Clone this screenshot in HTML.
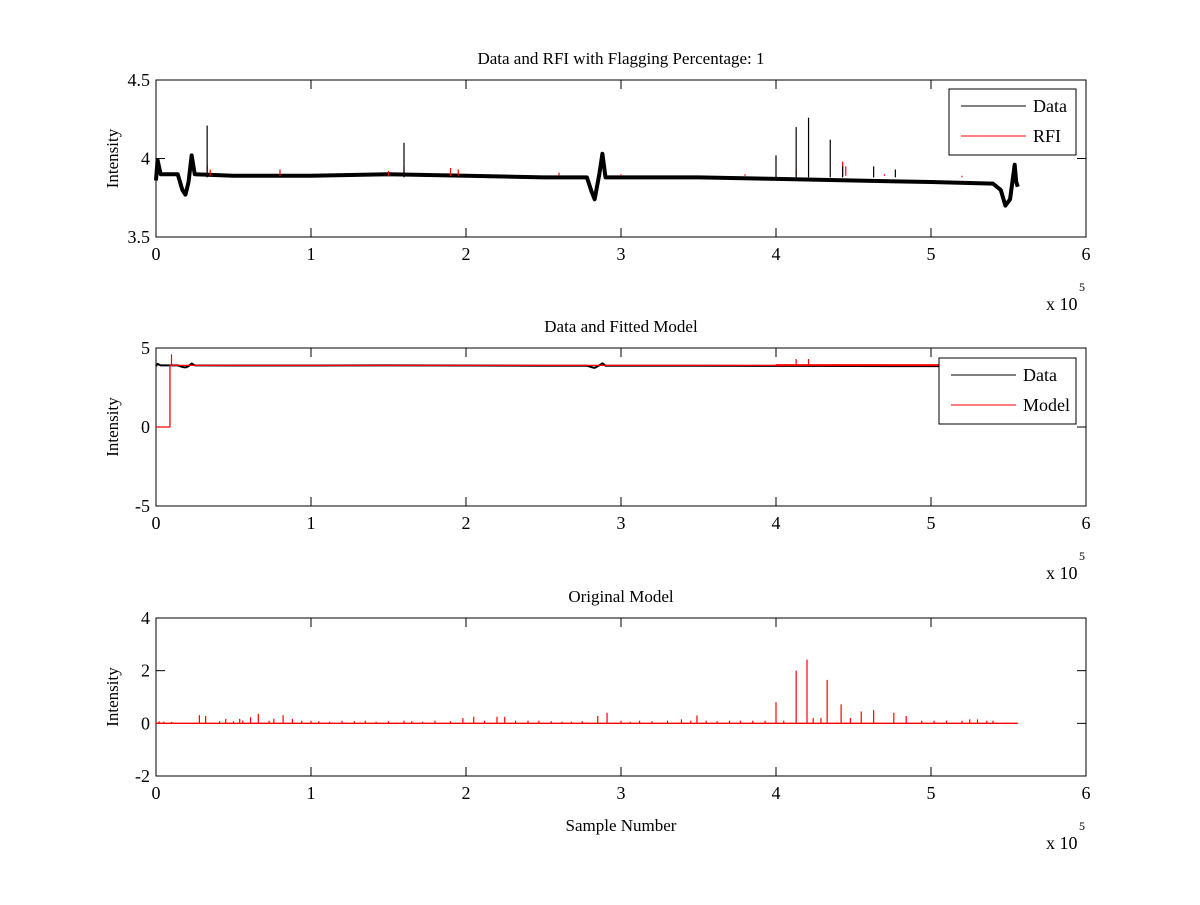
<!DOCTYPE html>
<html><head><meta charset="utf-8">
<style>
html,body{margin:0;padding:0;background:#fff;}
svg text{font-family:"Liberation Serif",serif;fill:#000;}
</style></head>
<body>
<svg id="fig" width="1200" height="900" viewBox="0 0 1200 900" xmlns="http://www.w3.org/2000/svg">
<rect x="0" y="0" width="1200" height="900" fill="#fff"/>
</svg>
<script>
// ---- data (samples in thousands) ----
const dataX = [0,1,3,10,14,17,19,21,23,25,50,100,150,200,250,278,281,283,286,288,290,350,400,450,500,540,545,548,551,554,555,556];
const dataY = [3.86,3.99,3.90,3.90,3.90,3.80,3.77,3.85,4.02,3.90,3.89,3.89,3.90,3.89,3.88,3.88,3.79,3.74,3.90,4.03,3.88,3.88,3.87,3.86,3.85,3.84,3.80,3.70,3.74,3.96,3.85,3.82];
const spikeX = [33,160,400,413,421,435,443,463,477];
const spikeY = [4.21,4.10,4.02,4.20,4.26,4.12,3.95,3.95,3.93];
const rfiX = [33,35,80,150,160,190,195,260,300,380,413,443,445,470,520];
const rfiY = [3.96,3.93,3.93,3.92,3.95,3.94,3.93,3.91,3.90,3.90,3.93,3.98,3.95,3.90,3.88];
const modelX = [0,9,9,556];
const modelY = [0,0,3.9,3.9];
const origX = [2,5,10,28,32,41,45,50,54,56,61,66,73,76,82,88,94,100,105,112,120,128,135,142,150,160,165,172,180,190,198,205,212,220,225,232,240,247,255,262,268,275,285,291,300,306,312,320,330,339,345,349,355,362,370,377,385,393,400,405,413,420,424,429,433,442,448,455,463,476,484,494,502,510,520,525,530,536,540];
const origY = [0.08,0.06,0.05,0.31,0.28,0.08,0.17,0.08,0.17,0.1,0.23,0.36,0.1,0.17,0.31,0.17,0.1,0.1,0.08,0.06,0.1,0.08,0.1,0.06,0.08,0.1,0.08,0.06,0.1,0.08,0.2,0.25,0.1,0.25,0.25,0.1,0.1,0.1,0.08,0.06,0.06,0.08,0.28,0.4,0.1,0.06,0.1,0.08,0.1,0.15,0.1,0.3,0.1,0.08,0.1,0.1,0.1,0.1,0.8,0.1,2.0,2.42,0.2,0.2,1.65,0.72,0.2,0.45,0.5,0.4,0.28,0.1,0.1,0.1,0.1,0.15,0.15,0.1,0.1];
const xTicks = [0,1,2,3,4,5,6];
const ax1Ticks = [3.5,4,4.5], ax2Ticks=[-5,0,5], ax3Ticks=[-2,0,2,4];

const svg = document.getElementById('fig');
const NS = 'http://www.w3.org/2000/svg';
function mk(tag, attrs, parent){const e=document.createElementNS(NS,tag);for(const k in attrs)e.setAttribute(k,attrs[k]);(parent||svg).appendChild(e);return e;}
const L=156,R=1086;
function sx(k){return L+(k/600)*(R-L);}

function axes(top,bot,ymin,ymax,yticks,title,name){
  const g=mk('g',{});
  
  
  const sy=v=>bot-(v-ymin)/(ymax-ymin)*(bot-top);
  mk('rect',{x:L,y:top,width:R-L,height:bot-top,fill:'none',stroke:'#000','stroke-width':1},g);
  xTicks.forEach(t=>{const x=sx(t*100);
    mk('line',{x1:x,x2:x,y1:bot,y2:bot-9,stroke:'#000'},g);
    mk('line',{x1:x,x2:x,y1:top,y2:top+9,stroke:'#000'},g);
    const tx=mk('text',{x:x,y:bot+23,'text-anchor':'middle','font-size':18},g);tx.textContent=t;
    
    
  });
  yticks.forEach(t=>{const y=sy(t);
    mk('line',{x1:L,x2:L+9,y1:y,y2:y,stroke:'#000'},g);
    mk('line',{x1:R,x2:R-9,y1:y,y2:y,stroke:'#000'},g);
    const tx=mk('text',{x:L-6,y:y+6,'text-anchor':'end','font-size':18},g);tx.textContent=t;
    
    
  });
  const tt=mk('text',{x:621,y:top-16,'text-anchor':'middle','font-size':17},g);tt.textContent=title;
  
  
  const yl=mk('text',{x:0,y:0,'text-anchor':'middle','font-size':17,transform:`translate(${L-38},${(top+bot)/2}) rotate(-90)`},g);yl.textContent='Intensity';
  
  
  const ex=mk('text',{x:1046,y:bot+73,'font-size':18},g);ex.textContent='x 10';
  
  
  const e5=mk('text',{x:1079,y:bot+54,'font-size':12},g);e5.textContent='5';
  return {g,sy};
}
function poly(xs,ys,sy,color,w,g,name){
  const p=mk('polyline',{points:xs.map((x,i)=>sx(x)+','+sy(ys[i])).join(' '),fill:'none',stroke:color,'stroke-width':w,'stroke-linejoin':'round'},g);
  
  
  return p;
}
function spikes(xs,ys,base,sy,color,g,name){
  xs.forEach((x,i)=>{const l=mk('line',{x1:sx(x),x2:sx(x),y1:sy(base),y2:sy(ys[i]),stroke:color,'stroke-width':1.2},g);
    
    });
}
function legend(x,y,w,labels,colors,g){
  const lg=mk('g',{},g);
  
  
  mk('rect',{x:x,y:y,width:w,height:66,fill:'#fff',stroke:'#000'},lg);
  labels.forEach((lab,i)=>{const yy=y+17+i*30;
    mk('line',{x1:x+12,x2:x+77,y1:yy,y2:yy,stroke:colors[i]},lg);
    const t=mk('text',{x:x+84,y:yy+6,'font-size':18},lg);t.textContent=lab;
    
    });
}

// Plot 1
const a1=axes(80,237,3.5,4.5,ax1Ticks,'Data and RFI with Flagging Percentage: 1','plot-data-rfi');
poly(dataX,dataY,a1.sy,'#000',4,a1.g,'data-line');
spikes(rfiX,rfiY,3.89,a1.sy,'#f00',a1.g,'rfi-spike');
spikes(spikeX,spikeY,3.88,a1.sy,'#000',a1.g,'data-spike');
legend(949,89,127,['Data','RFI'],['#000','#f00'],a1.g);

// Plot 2
const a2=axes(348,506,-5,5,ax2Ticks,'Data and Fitted Model','plot-fitted-model');
poly(dataX,dataY,a2.sy,'#000',2,a2.g,'data-line');
poly(modelX,modelY,a2.sy,'#f00',1.3,a2.g,'model-line');
poly([400,556],[3.92,3.92],a2.sy,'#f00',2,a2.g,'model-flagged');
spikes([10,413,421],[4.6,4.3,4.3],3.9,a2.sy,'#f00',a2.g,'model-spike');
legend(939,358,137,['Data','Model'],['#000','#f00'],a2.g);

// Plot 3
const a3=axes(618,776,-2,4,ax3Ticks,'Original Model','plot-original-model');
poly([0,556],[0,0],a3.sy,'#f00',1.3,a3.g,'zero-line');
spikes(origX,origY,0,a3.sy,'#f00',a3.g,'model-spike');
const xl=mk('text',{x:621,y:831,'text-anchor':'middle','font-size':17});xl.textContent='Sample Number';


</script>
</body></html>
